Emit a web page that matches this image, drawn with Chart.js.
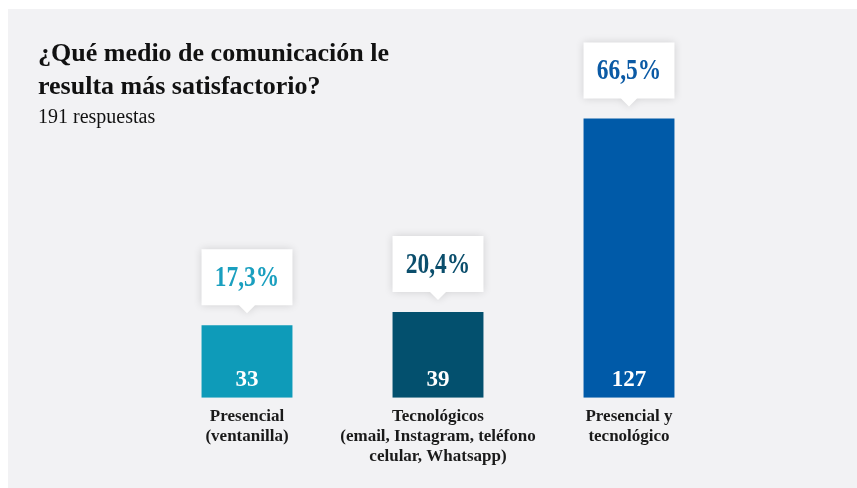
<!DOCTYPE html>
<html>
<head>
<meta charset="utf-8">
<script src="https://cdn.jsdelivr.net/npm/chart.js@4"></script>
<style>
  html, body { margin: 0; padding: 0; background: #fff; }
  #panel { position: absolute; left: 8px; top: 9px; right: 0; bottom: 0; background: #f2f2f4; }
  #wrap { position: absolute; left: 0; top: 0; width: 857px; height: 488px; }
  #heading { position: absolute; left: 38px; top: 36px; font-family: 'Liberation Serif', serif; color: #111; }
  #heading h1 { margin: 0; font-size: 26px; line-height: 33px; font-weight: bold; }
  #heading p { margin: 2px 0 0; font-size: 20px; line-height: 24px; }
</style>
</head>
<body>
<div id="panel"></div>
<div id="wrap"><canvas id="chart"></canvas></div>
<div id="heading">
  <h1>¿Qué medio de comunicación le<br>resulta más satisfactorio?</h1>
  <p>191 respuestas</p>
</div>
<script>
const categories = [
  ['Presencial', '(ventanilla)'],
  ['Tecnológicos', '(email, Instagram, teléfono', 'celular, Whatsapp)'],
  ['Presencial y', 'tecnológico']
];
const counts = [33, 39, 127];
const totalAnswers = 191;
const barColors = ['#0e9bb9', '#03506e', '#005aa8'];
const labelColors = ['#1a9fbf', '#0b4e6c', '#0b5aa5'];

const serif = "'Liberation Serif', 'Times New Roman', serif";

// percentage callouts above the bars and the counts inside them
const barLabels = {
  id: 'barLabels',
  afterDatasetsDraw(chart) {
    const ctx = chart.ctx;
    const bars = chart.getDatasetMeta(0).data;
    ctx.save();
    bars.forEach((bar, i) => {
      const w = bar.width;
      const left = bar.x - w / 2;
      const tip = bar.y - 12;
      const boxBottom = tip - 8;
      const boxTop = boxBottom - 56;

      ctx.save();
      ctx.shadowColor = 'rgba(0,0,0,0.14)';
      ctx.shadowBlur = 8;
      ctx.fillStyle = '#fff';
      ctx.beginPath();
      ctx.moveTo(left, boxTop);
      ctx.lineTo(left + w, boxTop);
      ctx.lineTo(left + w, boxBottom);
      ctx.lineTo(bar.x + 8, boxBottom);
      ctx.lineTo(bar.x, tip);
      ctx.lineTo(bar.x - 8, boxBottom);
      ctx.lineTo(left, boxBottom);
      ctx.closePath();
      ctx.fill();
      ctx.restore();

      const pct = (counts[i] / totalAnswers * 100).toFixed(1).replace('.', ',') + '%';
      ctx.fillStyle = labelColors[i];
      ctx.font = 'bold 30px ' + serif;
      ctx.textAlign = 'center';
      ctx.textBaseline = 'middle';
      ctx.save();
      ctx.translate(bar.x, (boxTop + boxBottom) / 2 + 1);
      ctx.scale(0.78, 1);
      ctx.fillText(pct, 0, 0);
      ctx.restore();

      ctx.fillStyle = '#fff';
      ctx.font = 'bold 23px ' + serif;
      ctx.fillText(String(counts[i]), bar.x, bar.base - 18);
    });
    ctx.restore();
  }
};

new Chart(document.getElementById('chart'), {
  type: 'bar',
  data: {
    labels: categories,
    datasets: [{
      data: counts,
      backgroundColor: barColors,
      borderWidth: 0,
      categoryPercentage: 1,
      barPercentage: 0.476
    }]
  },
  options: {
    responsive: true,
    maintainAspectRatio: false,
    animation: false,
    layout: { padding: { left: 151.5, right: 132.5, top: 24, bottom: 12 } },
    plugins: {
      legend: { display: false },
      tooltip: { enabled: false }
    },
    scales: {
      x: {
        grid: { display: false, drawTicks: false },
        border: { display: false },
        ticks: {
          color: '#1a1a1a',
          padding: 9,
          maxRotation: 0,
          autoSkip: false,
          font: { family: serif, size: 17, weight: 'bold', lineHeight: 1.18 }
        }
      },
      y: {
        display: false,
        min: 0,
        max: 170
      }
    }
  },
  plugins: [barLabels]
});
</script>
</body>
</html>
